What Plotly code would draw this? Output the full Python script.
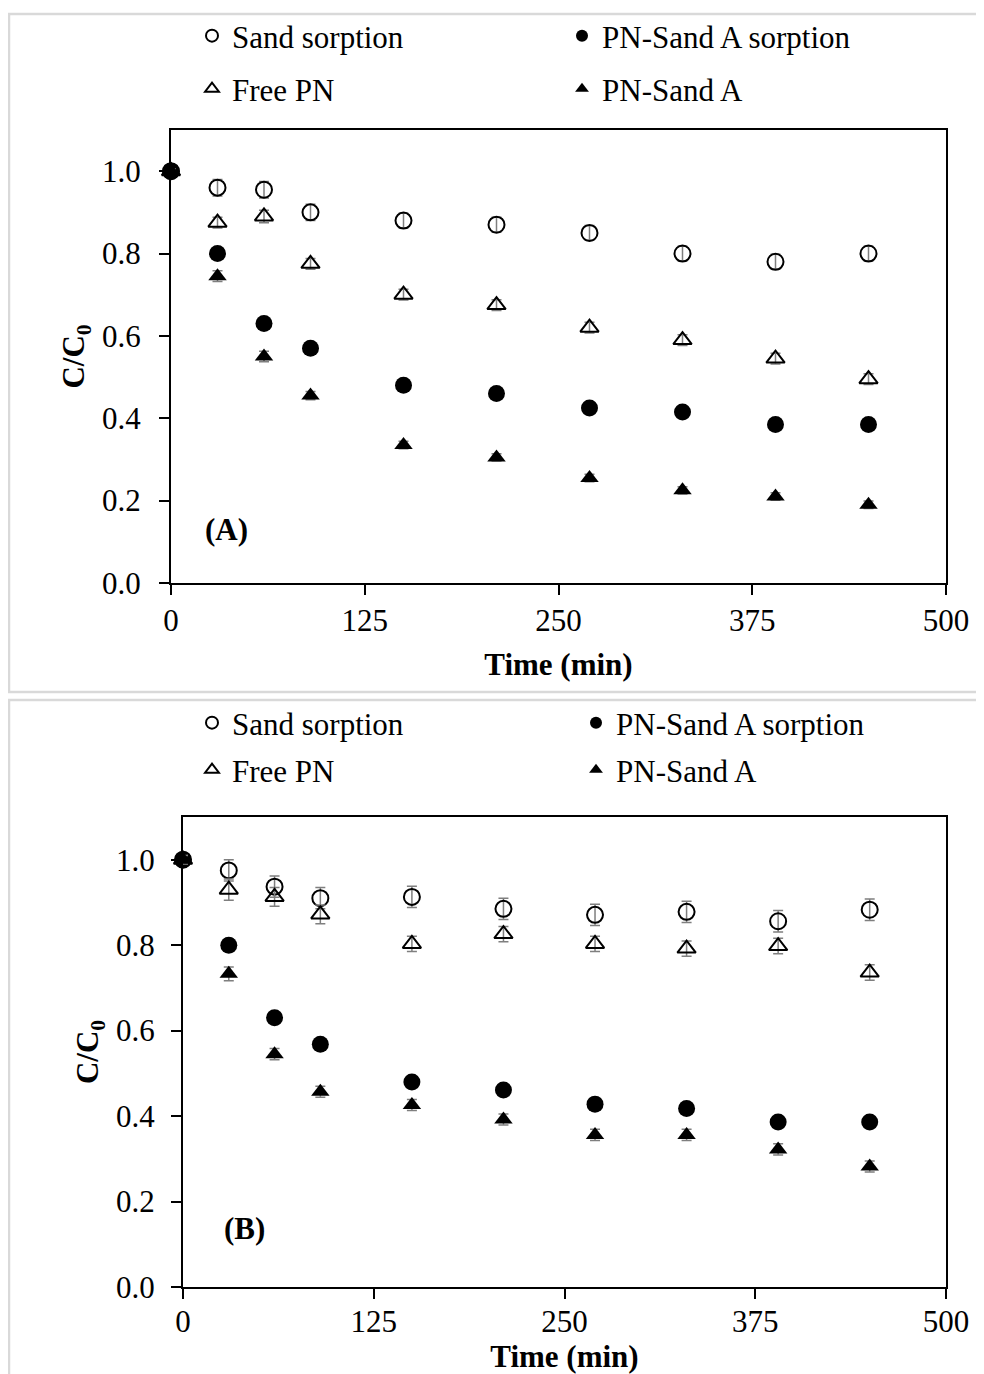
import plotly.graph_objects as go

# ---------------- data ----------------
time_min = [0, 30, 60, 90, 150, 210, 270, 330, 390, 450]
series_names = ["Sand sorption", "PN-Sand A sorption", "Free PN", "PN-Sand A"]

# Panel A
A_sand = [1.00, 0.96, 0.955, 0.90, 0.88, 0.87, 0.85, 0.80, 0.78, 0.80]
A_pnsorp = [1.00, 0.80, 0.63, 0.57, 0.48, 0.46, 0.425, 0.415, 0.385, 0.385]
A_free = [1.00, 0.875, 0.89, 0.775, 0.70, 0.675, 0.62, 0.59, 0.545, 0.495]
A_pn = [1.00, 0.745, 0.55, 0.455, 0.335, 0.305, 0.255, 0.225, 0.21, 0.19]
A_sand_err = [0.005, 0.02, 0.02, 0.02, 0.018, 0.018, 0.018, 0.018, 0.018, 0.018]
A_pnsorp_err = [0.005, 0.008, 0.008, 0.008, 0.008, 0.008, 0.008, 0.008, 0.008, 0.008]
A_free_err = [0.005, 0.013, 0.015, 0.013, 0.013, 0.013, 0.013, 0.013, 0.013, 0.013]
A_pn_err = [0.005, 0.013, 0.013, 0.01, 0.009, 0.009, 0.009, 0.009, 0.009, 0.009]

# Panel B
B_sand = [1.00, 0.975, 0.937, 0.91, 0.913, 0.885, 0.871, 0.878, 0.856, 0.883]
B_pnsorp = [1.00, 0.80, 0.63, 0.568, 0.48, 0.461, 0.428, 0.418, 0.386, 0.386]
B_free = [1.00, 0.93, 0.913, 0.872, 0.803, 0.826, 0.803, 0.792, 0.798, 0.736]
B_pn = [1.00, 0.733, 0.545, 0.457, 0.426, 0.392, 0.356, 0.356, 0.322, 0.282]
B_sand_err = [0.01, 0.025, 0.025, 0.025, 0.025, 0.025, 0.025, 0.025, 0.025, 0.025]
B_pnsorp_err = [0.01, 0.015, 0.008, 0.008, 0.008, 0.008, 0.008, 0.008, 0.008, 0.008]
B_free_err = [0.01, 0.025, 0.022, 0.022, 0.018, 0.018, 0.018, 0.018, 0.018, 0.018]
B_pn_err = [0.01, 0.016, 0.013, 0.013, 0.013, 0.013, 0.013, 0.013, 0.013, 0.013]

x_ticks = [0, 125, 250, 375, 500]
y_ticks = [0.0, 0.2, 0.4, 0.6, 0.8, 1.0]
panel_labels = ["(A)", "(B)"]

# ---------------- styling ----------------
OFF = 8                      # page body margin
W, H = 984 - OFF, 1374 - OFF  # figure reaches the window's right/bottom edges
FONT = "Liberation Serif, Times New Roman, serif"
FS = 31

styles = {
    "Sand sorption": dict(symbol="circle", size=16, color="rgba(0,0,0,0)",
                          line=dict(color="black", width=2)),
    "PN-Sand A sorption": dict(symbol="circle", size=17, color="black",
                               line=dict(color="black", width=0)),
    "Free PN": dict(symbol="triangle-up", size=16, color="rgba(0,0,0,0)",
                    line=dict(color="black", width=2)),
    "PN-Sand A": dict(symbol="triangle-up", size=16, color="black",
                      line=dict(color="black", width=0)),
}

def px_x(p):
    return (p - OFF) / W

def px_y(p):
    return 1 - (p - OFF) / H

fig = go.Figure()

panels = [
    dict(xa="x", ya="y", vals=[A_sand, A_pnsorp, A_free, A_pn],
         errs=[A_sand_err, A_pnsorp_err, A_free_err, A_pn_err],
         legends=["legend", "legend", "legend2", "legend2"]),
    dict(xa="x2", ya="y2", vals=[B_sand, B_pnsorp, B_free, B_pn],
         errs=[B_sand_err, B_pnsorp_err, B_free_err, B_pn_err],
         legends=["legend3", "legend3", "legend4", "legend4"]),
]

for pan in panels:
    for name, vals, errs, lg in zip(series_names, pan["vals"], pan["errs"], pan["legends"]):
        fig.add_trace(go.Scatter(
            x=time_min, y=vals, mode="markers", name=name,
            xaxis=pan["xa"], yaxis=pan["ya"], legend=lg,
            marker=styles[name], cliponaxis=False,
            error_y=dict(type="data", array=errs, visible=True,
                         color="#7f7f7f", thickness=1.5, width=5),
        ))

axis_common = dict(
    showline=True, linecolor="black", linewidth=2, mirror=True,
    ticks="outside", ticklen=10, tickwidth=2, tickcolor="black",
    showgrid=False, zeroline=False, automargin=False,
    tickfont=dict(family=FONT, size=FS, color="black"),
)

# plot areas (reference pixels)
A_box = (171, 946, 130, 583)
B_box = (183, 946, 817, 1287)

def xdom(b):
    return [px_x(b[0]), px_x(b[1])]

def ydom(b):
    return [px_y(b[3]), px_y(b[2])]

title_font = dict(family=FONT, size=FS, color="black", weight="bold")

fig.update_layout(
    width=W, height=H,
    margin=dict(l=0, r=0, t=0, b=0, autoexpand=False),
    paper_bgcolor="white", plot_bgcolor="white",
    font=dict(family=FONT, size=FS, color="black"),
    xaxis=dict(domain=xdom(A_box), anchor="y", range=[0, 500], tickvals=x_ticks,
               ticklabelstandoff=-1,
               title=dict(text="Time (min)", font=title_font, standoff=16),
               **axis_common),
    yaxis=dict(domain=ydom(A_box), anchor="x", range=[0, 1.1], tickvals=y_ticks,
               tickformat=".1f", ticklabelstandoff=12,
               title=dict(text="C/C<sub>0</sub>", font=title_font, standoff=8),
               **axis_common),
    xaxis2=dict(domain=xdom(B_box), anchor="y2", range=[0, 500], tickvals=x_ticks,
                ticklabelstandoff=-4,
                title=dict(text="Time (min)", font=title_font, standoff=7),
                **axis_common),
    yaxis2=dict(domain=ydom(B_box), anchor="x2", range=[0, 1.1], tickvals=y_ticks,
                tickformat=".1f", ticklabelstandoff=10,
                title=dict(text="C/C<sub>0</sub>", font=title_font, standoff=8),
                **axis_common),
    showlegend=True,
)

legend_common = dict(orientation="h", xanchor="left", yanchor="middle",
                     bgcolor="rgba(0,0,0,0)", borderwidth=0,
                     itemsizing="constant", itemwidth=30,
                     font=dict(family=FONT, size=FS, color="black"),
                     itemclick=False, itemdoubleclick=False)

fig.update_layout(
    legend=dict(x=px_x(192), y=px_y(36), entrywidth=325, **legend_common),
    legend2=dict(x=px_x(192), y=px_y(89), entrywidth=325, **legend_common),
    legend3=dict(x=px_x(192), y=px_y(723), entrywidth=339, **legend_common),
    legend4=dict(x=px_x(192), y=px_y(770), entrywidth=339, **legend_common),
)

# panel labels
fig.add_annotation(x=36, y=0.129, xref="x", yref="y", text="<b>" + panel_labels[0] + "</b>",
                   showarrow=False, xanchor="center", yanchor="middle",
                   font=dict(family=FONT, size=FS, color="black"))
fig.add_annotation(x=40.6, y=0.138, xref="x2", yref="y2", text="<b>" + panel_labels[1] + "</b>",
                   showarrow=False, xanchor="center", yanchor="middle",
                   font=dict(family=FONT, size=FS, color="black"))

# chart-area borders
fig.add_shape(type="rect", xref="paper", yref="paper",
              x0=px_x(9), x1=px_x(1000), y0=px_y(692), y1=px_y(14),
              line=dict(color="#d9d9d9", width=2.5), fillcolor="rgba(0,0,0,0)", layer="below")
fig.add_shape(type="rect", xref="paper", yref="paper",
              x0=px_x(9), x1=px_x(1000), y0=px_y(1390), y1=px_y(700),
              line=dict(color="#d9d9d9", width=2.5), fillcolor="rgba(0,0,0,0)", layer="below")

fig.write_html("out.html")
